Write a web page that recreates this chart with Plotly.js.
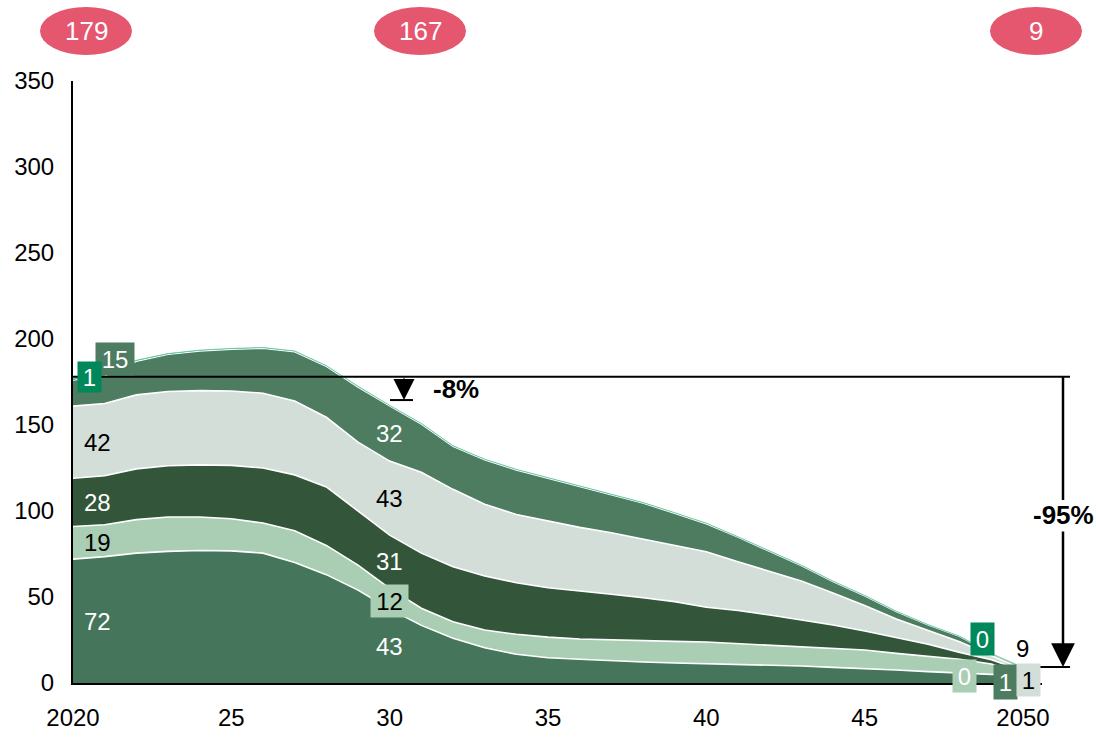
<!DOCTYPE html>
<html>
<head>
<meta charset="utf-8">
<script src="https://cdn.plot.ly/plotly-3.0.1.min.js"></script>
<style>html,body{margin:0;padding:0;background:#fff;}#chart{width:1096px;height:738px;}</style>
</head>
<body>
<div id="chart"></div>
<script>
// ---------- data ----------
const years = [2020,2021,2022,2023,2024,2025,2026,2027,2028,2029,2030,2031,2032,2033,2034,2035,2036,2037,2038,2039,2040,2041,2042,2043,2044,2045,2046,2047,2048,2049,2050];
const layerBottom = [72,73.5,75.5,76.5,77,76.8,75.5,70,63,54,43,33.5,26,20.5,16.7,14.7,13.8,12.8,12.2,11.6,11.2,11,10.5,9.9,9.1,8.5,7.6,6.6,5.6,5,5];
const layerLightGreen = [19,18.5,19.5,20,19.5,18.7,17.5,18.5,17,14.5,12,10,9.6,10.3,11.6,12,11.8,12.2,12.4,12.6,12.6,11.9,11.6,11.2,11.1,10.7,9.6,9.1,8.2,6,0];
const layerDark = [28,28.5,29.5,29.8,30.3,31,32,32.5,34,31.5,31,32,32,31.4,30,28.7,27.7,26.6,25,23.1,20.2,19.3,17.4,15.5,13.5,11,9.1,6.8,4,2.5,2];
const layerGrey = [42,42,43,43.2,43.2,43.3,43.5,43,40.5,40,43,47,45,41.7,39.7,38.8,37.2,35.8,34.1,32.9,32.3,28.3,25.6,22.7,18.6,14.8,10.9,7.9,6.2,2.5,1];
const layerMedium = [15,16,19.5,21.5,23,24.2,26,28.5,29.5,32,32,28,24.9,25.8,25.8,24.8,23.5,21.9,20.8,18.4,16.2,14.2,11.3,8.9,6.6,5.6,4.3,3.3,3,1,1];
const layerTop = [1,0.8,0.6,0.5,0.5,0.5,0.5,0.5,0.5,0.5,0.4,0.4,0.4,0.4,0.4,0.4,0.4,0.4,0.4,0.4,0.4,0.3,0.3,0.3,0.3,0.3,0.2,0.2,0.2,0.1,0];
const bubbleTotals = ['179','167','9'];
const xTickVals = [2020,2025,2030,2035,2040,2045,2050];
const xTickText = ['2020','25','30','35','40','45','2050'];
const changeLabels = ['-8%','-95%'];
const refLevels = [178,164.5,9.3];

// ---------- styling ----------
const FONT = '"Liberation Sans", Arial, sans-serif';
const FS = 24;
const C = {bottom:'#45755A', lg:'#A9CEB3', dark:'#33553A', grey:'#D4DED9', medium:'#4D7C61', top:'#00875A', bubble:'#E5566F'};
const L = 73, R = 54, T = 81, B = 55, W = 1096 - L - R, H = 738 - T - B;
const px = x => (x - L) / W;
const py = y => (738 - B - y) / H;

const layers = [
  {v: layerBottom, c: C.bottom, lc: '#ffffff', lw: 1.6},
  {v: layerLightGreen, c: C.lg, lc: '#ffffff', lw: 1.6},
  {v: layerDark, c: C.dark, lc: '#ffffff', lw: 1.6},
  {v: layerGrey, c: C.grey, lc: '#ffffff', lw: 1.6},
  {v: layerMedium, c: C.medium, lc: '#ffffff', lw: 1.2},
  {v: layerTop, c: C.top, lc: '#6CC9A8', lw: 1}
];
const traces = layers.map(l => ({
  type: 'scatter', mode: 'lines', x: years, y: l.v, stackgroup: 'one',
  fillcolor: l.c, line: {color: l.lc, width: l.lw, shape: 'linear'}, hoverinfo: 'skip', showlegend: false
}));

function cum(idx, upto) { let s = 0; for (let k = 0; k <= upto; k++) s += layers[k].v[idx]; return s; }
function mid(idx, k) { return (cum(idx, k) + (k > 0 ? cum(idx, k - 1) : 0)) / 2; }
const i20 = years.indexOf(2020), i30 = years.indexOf(2030), i50 = years.indexOf(2050);

const ann = [];
function lab(o) {
  ann.push(Object.assign({showarrow: false, font: {family: FONT, size: FS, color: o.color || '#fff'}, xanchor: 'center', yanchor: 'middle'}, o));
}
// 2020 labels
lab({xref: 'x', yref: 'y', x: 2020, xshift: 24, y: mid(i20, 0), text: String(layerBottom[i20]), color: '#fff'});
lab({xref: 'x', yref: 'y', x: 2020, xshift: 24, y: mid(i20, 1), text: String(layerLightGreen[i20]), color: '#000'});
lab({xref: 'x', yref: 'y', x: 2020, xshift: 24, y: mid(i20, 2), text: String(layerDark[i20]), color: '#fff'});
lab({xref: 'x', yref: 'y', x: 2020, xshift: 24, y: mid(i20, 3), text: String(layerGrey[i20]), color: '#000'});
lab({xref: 'paper', yref: 'paper', x: px(115), y: py(359), text: String(layerMedium[i20]), color: '#fff', bgcolor: C.medium, width: 32, height: 26, borderpad: 3});
lab({xref: 'paper', yref: 'paper', x: px(89.5), y: py(377), text: String(layerTop[i20]), color: '#fff', bgcolor: C.top, width: 17, height: 24, borderpad: 3});
// 2030 labels
lab({xref: 'x', yref: 'y', x: 2030, y: mid(i30, 0), text: String(layerBottom[i30]), color: '#fff'});
lab({xref: 'x', yref: 'y', x: 2030, y: mid(i30, 1) - 1.5, text: String(layerLightGreen[i30]), color: '#000', bgcolor: C.lg, width: 31, height: 26, borderpad: 3});
lab({xref: 'x', yref: 'y', x: 2030, y: mid(i30, 2), text: String(layerDark[i30]), color: '#fff'});
lab({xref: 'x', yref: 'y', x: 2030, y: mid(i30, 3), text: String(layerGrey[i30]), color: '#000'});
lab({xref: 'x', yref: 'y', x: 2030, y: mid(i30, 4), text: String(layerMedium[i30]), color: '#fff'});
// 2050 labels
lab({xref: 'paper', yref: 'paper', x: px(964), y: py(676), text: String(layerLightGreen[i50]), color: '#fff', bgcolor: C.lg, width: 17, height: 26, borderpad: 3});
lab({xref: 'paper', yref: 'paper', x: px(982), y: py(639), text: String(layerTop[i50]), color: '#fff', bgcolor: C.top, width: 17, height: 26, borderpad: 3});
lab({xref: 'paper', yref: 'paper', x: px(1005.5), y: py(682), text: String(layerMedium[i50]), color: '#fff', bgcolor: C.medium, width: 17, height: 28, borderpad: 3});
lab({xref: 'paper', yref: 'paper', x: px(1028), y: py(680), text: String(layerGrey[i50]), color: '#000', bgcolor: C.grey, width: 17, height: 26, borderpad: 3});
lab({xref: 'paper', yref: 'paper', x: px(1022), y: py(648), text: bubbleTotals[2], color: '#000'});

// bubbles
const bubbleCenters = [86, 420, 1036];
const shapes = [];
bubbleCenters.forEach((cx, k) => {
  shapes.push({type: 'circle', xref: 'paper', yref: 'paper', x0: px(cx - 46), x1: px(cx + 46), y0: py(55), y1: py(7), fillcolor: C.bubble, line: {width: 0}, layer: 'above'});
  ann.push({xref: 'paper', yref: 'paper', x: px(cx), y: py(31), text: bubbleTotals[k], showarrow: false, xanchor: 'center', yanchor: 'middle', font: {family: FONT, size: 26, color: '#fff'}});
});

// reference lines
shapes.push({type: 'line', xref: 'paper', yref: 'y', x0: 0, x1: px(1070), y0: refLevels[0], y1: refLevels[0], line: {color: '#000', width: 2}, layer: 'above'});
shapes.push({type: 'line', xref: 'paper', yref: 'y', x0: px(390), x1: px(413), y0: refLevels[1], y1: refLevels[1], line: {color: '#000', width: 2}, layer: 'above'});
shapes.push({type: 'line', xref: 'paper', yref: 'y', x0: px(1018), x1: px(1070), y0: refLevels[2], y1: refLevels[2], line: {color: '#000', width: 2}, layer: 'above'});
shapes.push({type: 'line', xref: 'paper', yref: 'paper', x0: px(1063), x1: px(1063), y0: py(377), y1: py(500), line: {color: '#000', width: 2.5}, layer: 'above'});

// arrows
ann.push({xref: 'paper', yref: 'paper', x: px(404), y: py(400), ax: 0, ay: -23, text: '', showarrow: true, arrowhead: 2, arrowsize: 2.1, arrowwidth: 2, arrowcolor: '#000', standoff: 0});
ann.push({xref: 'paper', yref: 'paper', x: px(1063), y: py(667), ax: 0, ay: -137, text: '', showarrow: true, arrowhead: 2, arrowsize: 1.9, arrowwidth: 2.5, arrowcolor: '#000', standoff: 0});
ann.push({xref: 'paper', yref: 'paper', x: px(456), y: py(389), text: '<b>' + changeLabels[0] + '</b>', showarrow: false, xanchor: 'center', yanchor: 'middle', font: {family: FONT, size: 26, color: '#000'}});
ann.push({xref: 'paper', yref: 'paper', x: px(1063), y: py(515), text: '<b>' + changeLabels[1] + '</b>', showarrow: false, xanchor: 'center', yanchor: 'middle', font: {family: FONT, size: 26, color: '#000'}});

const layout = {
  width: 1096, height: 738,
  margin: {l: L, r: R, t: T, b: B, pad: 0},
  paper_bgcolor: '#fff', plot_bgcolor: '#fff',
  font: {family: FONT, size: FS, color: '#000'},
  showlegend: false,
  xaxis: {range: [2020, 2050.6], tickvals: xTickVals, ticktext: xTickText, showgrid: false, zeroline: false,
          showline: true, linecolor: '#000', linewidth: 2, ticks: '', ticklabelstandoff: 12,
          tickfont: {family: FONT, size: FS, color: '#000'}, fixedrange: true},
  yaxis: {range: [0, 350], dtick: 50, tick0: 0, showgrid: false, zeroline: false,
          showline: true, linecolor: '#000', linewidth: 2, ticks: '', ticklabelstandoff: 12,
          tickfont: {family: FONT, size: FS, color: '#000'}, fixedrange: true},
  shapes: shapes,
  annotations: ann
};
Plotly.newPlot('chart', traces, layout, {displayModeBar: false, staticPlot: true});
</script>
</body>
</html>
